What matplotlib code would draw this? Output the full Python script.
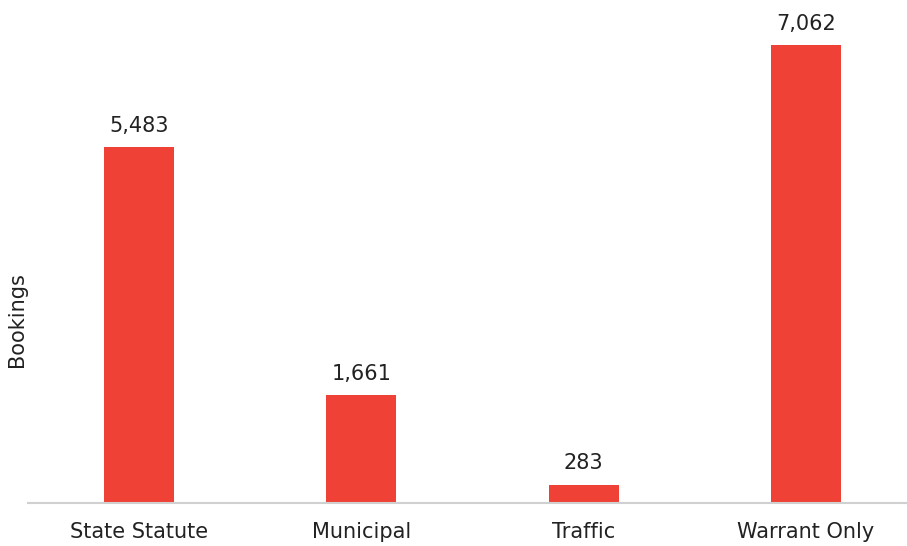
import matplotlib
matplotlib.use("Agg")
import matplotlib.pyplot as plt

categories = ["State Statute", "Municipal", "Traffic", "Warrant Only"]
bookings = [5483, 1661, 283, 7062]

plt.rcParams['font.family'] = ['DejaVu Sans']

fig = plt.figure(figsize=(9.07, 5.46), dpi=100)
ax = fig.add_axes([0.031, 0.079, 0.969, 0.921])

x = range(len(categories))
bars = ax.bar(x, bookings, width=0.315, color="#EF4136")

for rect, val in zip(bars, bookings):
    ax.annotate(f"{val:,}", (rect.get_x() + rect.get_width() / 2, val),
                xytext=(0, 8), textcoords="offset points",
                ha="center", va="bottom", fontsize=15, color="#222222")

ax.set_xlim(-0.5, 3.455)
ax.set_ylim(0, 7756)
ax.set_xticks(list(x))
ax.set_xticklabels(categories, fontsize=15, color="#222222")
ax.tick_params(axis="x", length=0, pad=14)
ax.set_yticks([])
ax.set_ylabel("Bookings", fontsize=15, color="#222222")
ax.yaxis.set_label_coords(-0.001, 0.364)

for side in ["top", "right", "left"]:
    ax.spines[side].set_visible(False)
ax.spines["bottom"].set_color("#D0D0D0")
ax.spines["bottom"].set_linewidth(1.5)

fig.savefig("out.png", dpi=100)
